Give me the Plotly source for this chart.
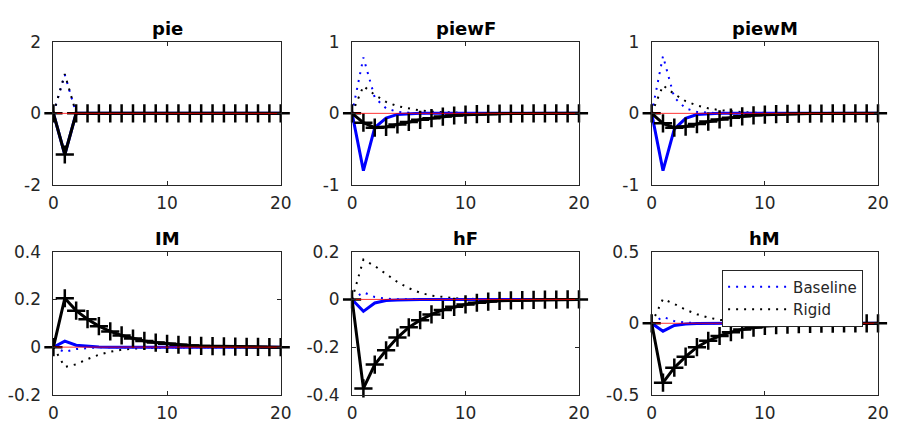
import plotly.graph_objects as go

periods = list(range(21))

titles = ["pie", "piewF", "piewM", "IM", "hF", "hM"]
legend_names = ["Baseline", "Rigid"]

# Blue dotted (Baseline), black dotted (Rigid), blue solid, black solid with "+" markers
pie_base_dot = [0, 1.08] + [0] * 19
pie_rigid_dot = [0, 1.10] + [0] * 19
pie_base_sol = [0, -1.15] + [0] * 19
pie_rigid_sol = [0, -1.15] + [0] * 19

piewF_base_dot = [0, 0.78, 0.22, 0.07, 0.02, 0.005] + [0] * 15
piewF_rigid_dot = [0, 0.38, 0.26, 0.16, 0.10, 0.065, 0.04, 0.025, 0.015, 0.01, 0.005] + [0] * 10
piewF_base_sol = [0, -0.80, -0.20, -0.065, -0.015, -0.004] + [0] * 15
piewF_rigid_sol = [0, -0.13, -0.20, -0.19, -0.155, -0.12, -0.09, -0.067, -0.045, -0.03,
                   -0.018, -0.012, -0.008, -0.005, -0.003, -0.002, -0.001, 0, 0, 0, 0]

piewM_base_dot = [0, 0.80, 0.22, 0.07, 0.02, 0.005] + [0] * 15
piewM_rigid_dot = [0, 0.39, 0.27, 0.17, 0.11, 0.07, 0.045, 0.028, 0.017, 0.01, 0.005] + [0] * 10
piewM_base_sol = [0, -0.80, -0.22, -0.07, -0.016, -0.004] + [0] * 15
piewM_rigid_sol = [0, -0.14, -0.20, -0.185, -0.15, -0.115, -0.085, -0.06, -0.042, -0.028,
                   -0.018, -0.012, -0.008, -0.005, -0.003, -0.002, -0.001, 0, 0, 0, 0]

IM_base_dot = [0, -0.02, -0.008, -0.003, -0.001] + [0] * 16
IM_rigid_dot = [0, -0.083, -0.072, -0.05, -0.032, -0.019, -0.011, -0.006, -0.003, -0.002, -0.001] + [0] * 10
IM_base_sol = [0, 0.025, 0.008, 0.003, 0.001] + [0] * 16
IM_rigid_sol = [0, 0.205, 0.153, 0.117, 0.088, 0.066, 0.049, 0.036, 0.026, 0.019, 0.014,
                0.010, 0.007, 0.005, 0.004, 0.003, 0.002, 0.001, 0.001, 0, 0]

hF_base_dot = [0, 0.03, 0.01, 0.003, 0.001] + [0] * 16
hF_rigid_dot = [0, 0.167, 0.14, 0.105, 0.073, 0.047, 0.028, 0.016, 0.009, 0.005, 0.003, 0.001] + [0] * 9
hF_base_sol = [0, -0.05, -0.015, -0.005, -0.002] + [0] * 16
hF_rigid_sol = [0, -0.373, -0.273, -0.213, -0.16, -0.117, -0.087, -0.063, -0.044, -0.031,
                -0.021, -0.014, -0.009, -0.006, -0.004, -0.003, -0.002, -0.001, -0.001, 0, 0]

hM_base_dot = [0, 0.045, 0.015, 0.005, 0.002] + [0] * 16
hM_rigid_dot = [0, 0.17, 0.135, 0.095, 0.063, 0.04, 0.024, 0.014, 0.008, 0.004, 0.002, 0.001] + [0] * 9
hM_base_sol = [0, -0.055, -0.015, -0.005, -0.002] + [0] * 16
hM_rigid_sol = [0, -0.415, -0.31, -0.233, -0.167, -0.122, -0.089, -0.062, -0.044, -0.03,
                -0.019, -0.013, -0.009, -0.006, -0.004, -0.003, -0.002, -0.001, -0.001, 0, 0]

zero_line = [0] * 21

y_ranges = [[-2, 2], [-1, 1], [-1, 1], [-0.2, 0.4], [-0.4, 0.2], [-0.5, 0.5]]
y_ticks = [[-2, 0, 2], [-1, 0, 1], [-1, 0, 1], [-0.2, 0, 0.2, 0.4], [-0.4, -0.2, 0, 0.2], [-0.5, 0, 0.5]]
y_ticktext = [["-2", "0", "2"], ["-1", "0", "1"], ["-1", "0", "1"],
              ["-0.2", "0", "0.2", "0.4"], ["-0.4", "-0.2", "0", "0.2"], ["-0.5", "0", "0.5"]]
x_ticks = [0, 10, 20]

series = [
    (pie_base_dot, pie_rigid_dot, pie_base_sol, pie_rigid_sol),
    (piewF_base_dot, piewF_rigid_dot, piewF_base_sol, piewF_rigid_sol),
    (piewM_base_dot, piewM_rigid_dot, piewM_base_sol, piewM_rigid_sol),
    (IM_base_dot, IM_rigid_dot, IM_base_sol, IM_rigid_sol),
    (hF_base_dot, hF_rigid_dot, hF_base_sol, hF_rigid_sol),
    (hM_base_dot, hM_rigid_dot, hM_base_sol, hM_rigid_sol),
]

W, H = 906, 437
x_px = [(49.3, 280.7), (353.3, 584.3), (658.3, 888.7)]
y_px = [(33.3, 183.3), (253.3, 403.3)]

FONT = "DejaVu Sans"
AX = "#262626"
DOT = "2px,6px"

fig = go.Figure()
layout = dict(
    width=W, height=H, margin=dict(l=0, r=0, t=0, b=0),
    paper_bgcolor="white", plot_bgcolor="white",
    font=dict(family=FONT, size=17, color=AX),
    showlegend=True,
    legend=dict(x=730 / W, y=1 - 272 / H, xanchor="left", yanchor="top",
                bgcolor="white", bordercolor=AX, borderwidth=1,
                font=dict(family=FONT, size=15, color="#262626"),
                itemwidth=60, tracegroupgap=0),
)
annotations = []

for i, (bd, rd, bs, rs) in enumerate(series):
    r, c = divmod(i, 3)
    xa = "x" if i == 0 else f"x{i+1}"
    ya = "y" if i == 0 else f"y{i+1}"
    xkey = "xaxis" if i == 0 else f"xaxis{i+1}"
    ykey = "yaxis" if i == 0 else f"yaxis{i+1}"
    x0, x1 = x_px[c]
    yt, yb = y_px[r]
    layout[xkey] = dict(domain=[x0 / W, x1 / W], anchor=ya, range=[0, 20],
                        tickvals=x_ticks, ticks="inside", ticklen=4, tickcolor=AX,
                        showline=True, linecolor=AX, linewidth=1, mirror="ticks",
                        showgrid=False, zeroline=False, ticklabelstandoff=3,
                        tickfont=dict(family=FONT, size=17, color=AX))
    layout[ykey] = dict(domain=[1 - yb / H, 1 - yt / H], anchor=xa, range=y_ranges[i],
                        tickvals=y_ticks[i], ticktext=y_ticktext[i],
                        ticks="inside", ticklen=4, tickcolor=AX,
                        showline=True, linecolor=AX, linewidth=1, mirror="ticks",
                        showgrid=False, zeroline=False, ticklabelstandoff=8,
                        tickfont=dict(family=FONT, size=17, color=AX))
    annotations.append(dict(text=f"<b>{titles[i]}</b>", x=(x0 + x1) / 2 / W, y=1 - yt / H,
                            xref="paper", yref="paper", xanchor="center", yanchor="bottom",
                            yshift=1, showarrow=False,
                            font=dict(family=FONT, size=18, color="black")))
    show = (i == 0)
    fig.add_trace(go.Scatter(x=periods, y=bd, mode="lines", name=legend_names[0],
                             line=dict(color="#0000ff", width=2, dash=DOT),
                             xaxis=xa, yaxis=ya, showlegend=show, legendrank=1))
    fig.add_trace(go.Scatter(x=periods, y=rd, mode="lines", name=legend_names[1],
                             line=dict(color="black", width=2, dash=DOT),
                             xaxis=xa, yaxis=ya, showlegend=show, legendrank=2))
    fig.add_trace(go.Scatter(x=periods, y=bs, mode="lines", name="Baseline IRF",
                             line=dict(color="#0000ff", width=3),
                             xaxis=xa, yaxis=ya, showlegend=False))
    fig.add_trace(go.Scatter(x=periods, y=rs, mode="lines+markers", name="Rigid IRF",
                             line=dict(color="black", width=3),
                             marker=dict(symbol="cross-thin", size=13, color="black",
                                         line=dict(color="black", width=2.5)),
                             cliponaxis=False,
                             xaxis=xa, yaxis=ya, showlegend=False))
    fig.add_trace(go.Scatter(x=periods, y=zero_line, mode="lines", name="zero",
                             line=dict(color="rgba(255,0,0,0.8)", width=1),
                             xaxis=xa, yaxis=ya, showlegend=False))

layout["annotations"] = annotations
fig.update_layout(**layout)
fig.write_html("out.html")
